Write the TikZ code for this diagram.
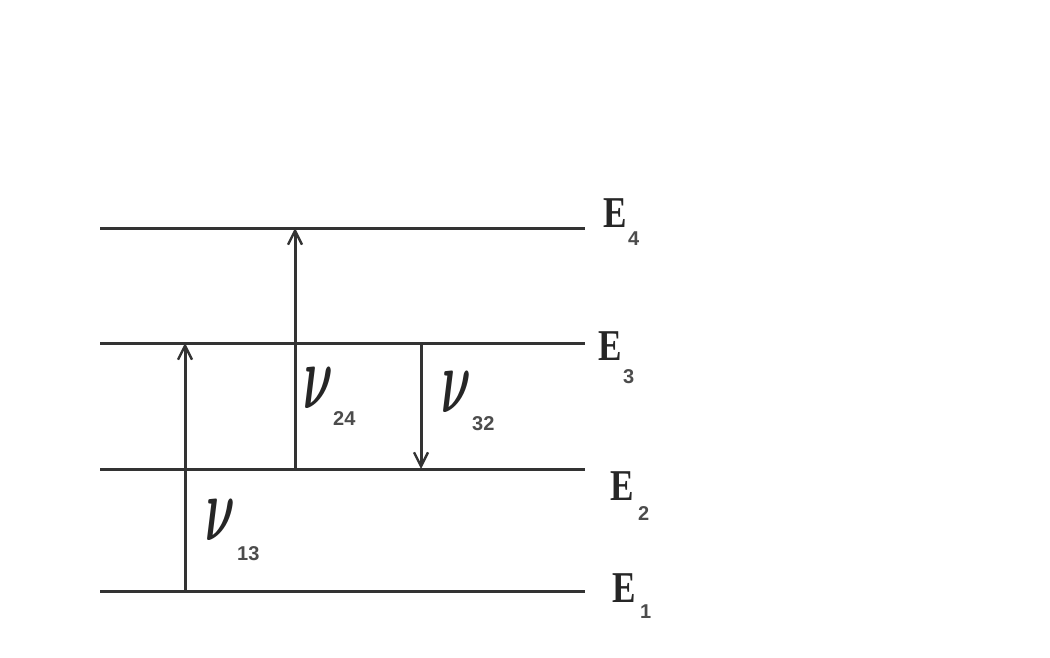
\RequirePackage{fix-cm}
\documentclass[tikz,border=0pt]{standalone}
\usepackage{fontspec}
\setmainfont{Liberation Serif}
\newfontfamily\subfont{Liberation Sans}
\usetikzlibrary{arrows.meta}
\begin{document}
\begin{tikzpicture}[x=1pt,y=-1pt,
  level/.style={line width=3pt, draw=black!80},
  trans/.style={line width=3pt, draw=black!80,
    -{Straight Barb[length=14pt,width=14pt,line width=2.4pt]}},
  elab/.style={inner sep=0, anchor=base west, text=black!85,
    font=\bfseries\fontsize{44}{44}\selectfont},
  sublab/.style={inner sep=0, anchor=base west, text=black!70,
    font=\subfont\bfseries\fontsize{20}{20}\selectfont},
  nulab/.style={inner sep=0, anchor=base west, text=black!85,
    font=\boldmath\fontsize{92}{92}\selectfont}]
\useasboundingbox (0,0) rectangle (1050,658);
% levels
\coordinate (L4a) at (100,228); \coordinate (L4b) at (585,228);
\coordinate (L3a) at (100,343); \coordinate (L3b) at (585,343);
\coordinate (L2a) at (100,469); \coordinate (L2b) at (585,469);
\coordinate (L1a) at (100,591); \coordinate (L1b) at (585,591);
\draw[level] (L4a) -- (L4b);
\draw[level] (L3a) -- (L3b);
\draw[level] (L2a) -- (L2b);
\draw[level] (L1a) -- (L1b);
% transitions
\coordinate (t13a) at (185,591); \coordinate (t13b) at (185,343);
\coordinate (t24a) at (295,469); \coordinate (t24b) at (295,228);
\coordinate (t32a) at (421,343); \coordinate (t32b) at (421,469);
\draw[trans] (t13a) -- (t13b);
\draw[trans] (t24a) -- (t24b);
\draw[trans] (t32a) -- (t32b);
% energy labels
\node[elab] (e4) at (603,227) {\scalebox{0.8}[1]{E}};
\node[sublab] (e4s) at (628,245) {4};
\node[elab] (e3) at (598,360) {\scalebox{0.8}[1]{E}};
\node[sublab] (e3s) at (623,383) {3};
\node[elab] (e2) at (610,500) {\scalebox{0.8}[1]{E}};
\node[sublab] (e2s) at (638,520) {2};
\node[elab] (e1) at (612,602) {\scalebox{0.8}[1]{E}};
\node[sublab] (e1s) at (640,618) {1};
% frequency labels
\node[nulab] (n13) at (205,540) {\scalebox{0.5}[1]{$\nu$}};
\node[sublab] (n13s) at (237,560) {13};
\node[nulab] (n24) at (303,408) {\scalebox{0.5}[1]{$\nu$}};
\node[sublab] (n24s) at (333,425) {24};
\node[nulab] (n32) at (441,412) {\scalebox{0.5}[1]{$\nu$}};
\node[sublab] (n32s) at (472,430) {32};
\end{tikzpicture}
\end{document}
